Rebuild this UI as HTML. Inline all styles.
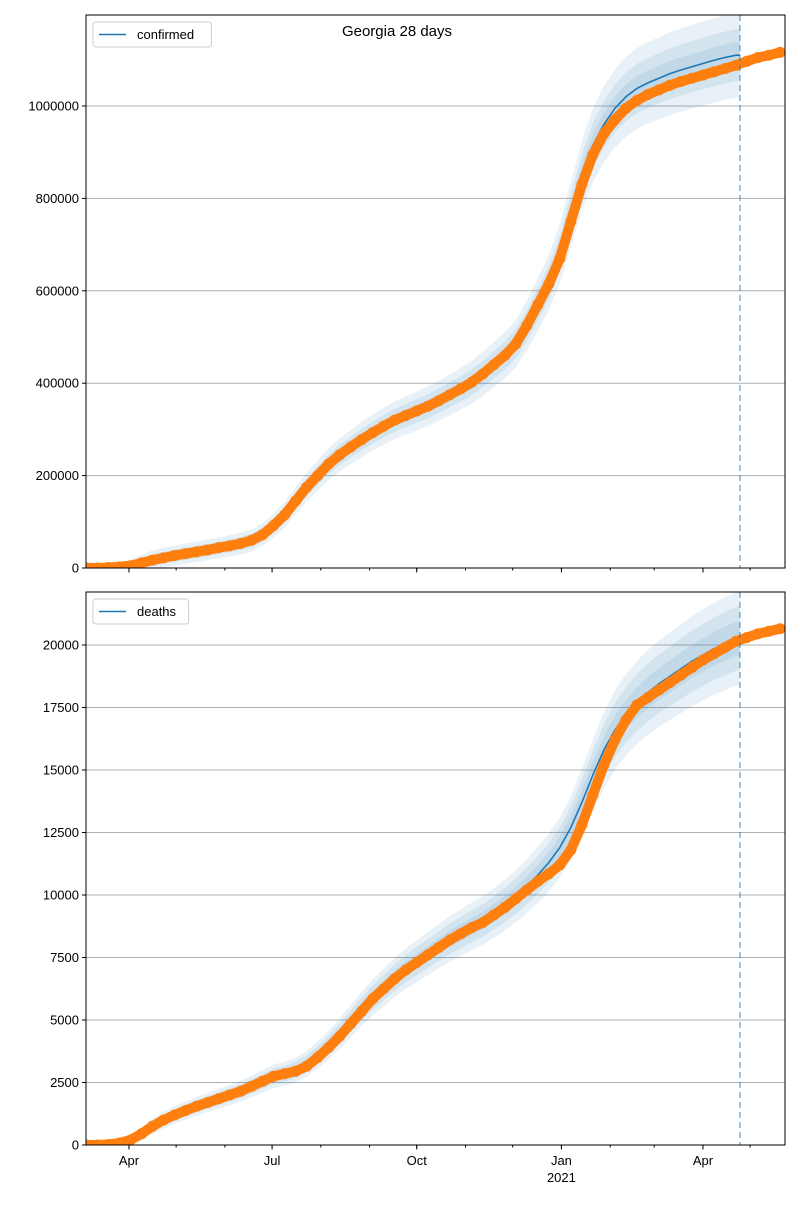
<!DOCTYPE html>
<html><head><meta charset="utf-8">
<style>
body{margin:0;background:#fff;}
svg{font-family:"Liberation Sans","DejaVu Sans",sans-serif;}
</style></head>
<body>
<svg id="chart" width="800" height="1200" viewBox="0 0 800 1200" xmlns="http://www.w3.org/2000/svg">
<text x="397" y="36" font-size="15" text-anchor="middle">Georgia 28 days</text>
</svg>
<script>
// weekly observations starting 2020-03-05
const confirmedK = [0,0,1,2.5,5,11,17,22,27,31,35,39,44,48,53,60,72,92,115,145,175,200,225,245,262,278,293,307,320,330,340,350,362,375,388,402,420,440,460,485,525,570,615,670,750,830,895,940,970,995,1012,1025,1035,1045,1053,1060,1067,1074,1081,1088,1097,1105,1110,1116];
const deaths = [0,0,20,80,200,450,750,1000,1200,1380,1550,1700,1850,2000,2150,2350,2550,2750,2850,2950,3150,3500,3900,4350,4850,5350,5850,6250,6650,7000,7300,7600,7900,8200,8450,8700,8900,9200,9500,9850,10200,10550,10850,11200,11800,12800,14000,15200,16200,17000,17600,17900,18200,18500,18800,19100,19400,19650,19900,20150,20300,20450,20550,20650];
const modelConfirmedK = [0,0,1,2.5,5,11,17,22,27,31,35,39,44,48,53,60,72,92,115,145,175,200,225,245,262,278,293,307,320,330,340,350,362,375,388,402,420,440,460,485,525,570,618,680,765,850,915,960,995,1020,1038,1050,1060,1070,1078,1085,1092,1099,1105,1110];
const modelDeaths = [0,0,20,80,200,450,750,1000,1200,1380,1550,1700,1850,2000,2150,2350,2550,2750,2850,3000,3250,3600,4000,4450,4950,5450,5900,6300,6700,7050,7350,7650,7950,8250,8500,8750,8980,9280,9600,9950,10350,10800,11300,11900,12700,13700,14800,15800,16600,17200,17700,18100,18450,18750,19050,19350,19600,19850,20050,20250];
const confBands = [0.02,0.04,0.065];
const confBandsAbs = [6000,12000,20000];
const deathBands = [0.03,0.055,0.08];
const deathBandsAbs = [80,160,250];
const yTicksTop = [0,200000,400000,600000,800000,1000000];
const yTicksBottom = [0,2500,5000,7500,10000,12500,15000,17500,20000];
const monthDays = [27,57,88,118,149,180,210,241,271,302,333,361,392,422];
const majorDays = [27,118,210,302,392];
const majorLabels = ["Apr","Jul","Oct","Jan","Apr"];
const forecastDay = 415.5;

const NS="http://www.w3.org/2000/svg";
const svg=document.getElementById('chart');
const X0=86, X1=785;
const xs = d => 86.5 + d*1.5726;
function mk(tag, attrs, parent){const e=document.createElementNS(NS,tag);for(const k in attrs)e.setAttribute(k,attrs[k]);(parent||svg).appendChild(e);return e;}

function panel(cfg){
  const {top,bottom,ymax,ticks,obs,model,bands,bandsAbs,label,name,showX}=cfg;
  const ys = v => bottom - v/ymax*(bottom-top);
  const g=mk('g',{});
  
  
  const cid='clip-'+name;
  const cp=mk('clipPath',{id:cid},g); mk('rect',{x:X0,y:top,width:X1-X0,height:bottom-top},cp);
  ticks.forEach(t=>{
    const y=ys(t);
    const gl=mk('line',{x1:X0,x2:X1,y1:y,y2:y,stroke:'#b0b0b0','stroke-width':1},g);
     
    mk('line',{x1:X0-4,x2:X0,y1:y,y2:y,stroke:'#000'},g);
    const tx=mk('text',{x:X0-7,y:y+4.5,'font-size':13,'text-anchor':'end'},g);
    tx.textContent=String(t);
     
  });
  const pg=mk('g',{'clip-path':'url(#'+cid+')'},g);
  for(let b=bands.length-1;b>=0;b--){
    let up=[],dn=[];
    const ramp = i => Math.min(1, i/6);
    model.forEach((v,i)=>{const w=(v*bands[b]+bandsAbs[b])*ramp(i);up.push(xs(i*7)+','+ys(v+w));dn.unshift(xs(i*7)+','+ys(Math.max(0,v-w)));});
    const last=model[model.length-1];
    const wl=last*bands[b]+bandsAbs[b];
    up.push(xs(forecastDay)+','+ys(last+wl)); dn.unshift(xs(forecastDay)+','+ys(last-wl));
    const p=mk('polygon',{points:up.concat(dn).join(' '),fill:'#1f77b4','fill-opacity':0.1},pg);
     
  }
  const mp=model.map((v,i)=>xs(i*7)+','+ys(v));
  mp.push(xs(forecastDay)+','+ys(model[model.length-1]));
  const ml=mk('polyline',{points:mp.join(' '),fill:'none',stroke:'#1f77b4','stroke-width':1.6},pg);
   
  const op=obs.map((v,i)=>xs(i*7)+','+ys(v)).join(' ');
  const ol=mk('polyline',{points:op,fill:'none',stroke:'#ff7f0e','stroke-width':10,'stroke-linejoin':'round','stroke-linecap':'round'},pg);
   
  obs.forEach((v,i)=>{
    const c=mk('circle',{cx:xs(i*7),cy:ys(v),r:5.5,fill:'#ff7f0e'},pg);
     
  });
  const fx=xs(forecastDay);
  const dl=mk('line',{x1:fx,x2:fx,y1:top,y2:bottom,stroke:'#1f77b4','stroke-opacity':0.55,'stroke-width':1.6,'stroke-dasharray':'6,4'},g);
   
  monthDays.forEach(d=>mk('line',{x1:xs(d),x2:xs(d),y1:bottom,y2:bottom+2.5,stroke:'#000'},g));
  majorDays.forEach((d,i)=>{
    mk('line',{x1:xs(d),x2:xs(d),y1:bottom,y2:bottom+4.5,stroke:'#000'},g);
    if(showX){
      const t=mk('text',{x:xs(d),y:bottom+20,'font-size':13,'text-anchor':'middle'},g);
      t.textContent=majorLabels[i];
       
    }
  });
  if(showX){
    const t=mk('text',{x:xs(302),y:bottom+37,'font-size':13,'text-anchor':'middle'},g);
    t.textContent='2021';
     
  }
  mk('rect',{x:X0,y:top,width:X1-X0,height:bottom-top,fill:'none',stroke:'#000','stroke-width':1},g);
  const lg=mk('g',{},g);
   
  const w=label.length*7.6+50;
  mk('rect',{x:X0+7,y:top+7,width:w,height:25,rx:3,fill:'#fff','fill-opacity':0.8,stroke:'#ccc'},lg);
  mk('line',{x1:X0+13,x2:X0+40,y1:top+19.5,y2:top+19.5,stroke:'#1f77b4','stroke-width':1.6},lg);
  const lt=mk('text',{x:X0+51,y:top+24,'font-size':13},lg);
  lt.textContent=label;
   
}

panel({top:15,bottom:568,ymax:1197000,ticks:yTicksTop,obs:confirmedK.map(v=>v*1000),model:modelConfirmedK.map(v=>v*1000),bands:confBands,bandsAbs:confBandsAbs,label:'confirmed',name:'confirmed',showX:false});
panel({top:592,bottom:1145,ymax:22120,ticks:yTicksBottom,obs:deaths,model:modelDeaths,bands:deathBands,bandsAbs:deathBandsAbs,label:'deaths',name:'deaths',showX:true});
</script>
</body></html>
